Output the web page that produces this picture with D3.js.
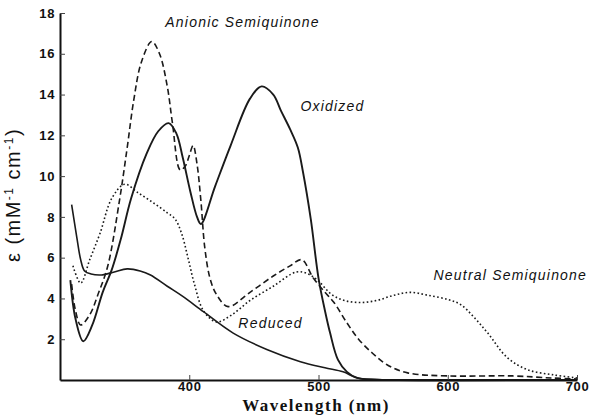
<!DOCTYPE html>
<html>
<head>
<meta charset="utf-8">
<script src="https://cdn.jsdelivr.net/npm/d3@7"></script>
<style>
  body { margin: 0; background: #fff; }
  text { fill: #111; }
</style>
</head>
<body>
<svg width="602" height="416"></svg>
<script>
// spectra (wavelength in nm, epsilon in mM-1 cm-1)
const oxidizedWl  = [308, 312, 318, 325, 333, 340, 347, 355, 367, 376, 384, 390, 395, 401, 406, 409, 420, 432, 447, 456, 465, 471, 478, 484, 488, 494, 500, 505, 509, 515, 522, 530, 545, 600, 700];
const oxidizedVal = [4.9, 3.0, 1.9, 2.7, 4.3, 5.4, 6.9, 8.9, 11.1, 12.2, 12.6, 12.1, 10.9, 9.2, 8.0, 7.65, 9.5, 11.5, 13.8, 14.4, 14.0, 13.2, 12.3, 11.4, 10.2, 7.9, 5.0, 3.4, 2.3, 1.0, 0.4, 0.1, 0.02, 0, 0];

const reducedWl  = [309, 313, 316, 319, 324, 332, 342, 352, 362, 370, 383, 395, 411, 434, 460, 486, 505, 519, 530, 545, 700];
const reducedVal = [8.6, 7.0, 5.9, 5.35, 5.2, 5.15, 5.3, 5.45, 5.35, 5.15, 4.6, 4.1, 3.35, 2.3, 1.5, 0.9, 0.6, 0.4, 0.1, 0.02, 0];

const anionicWl  = [309, 312, 316, 323, 330, 337, 346, 352, 357, 363, 371, 377, 383, 387, 393, 397, 400, 403, 406, 409, 412, 416, 421, 430, 447, 465, 478, 487, 496, 505, 512, 522, 531, 542, 553, 569, 600, 650, 680, 700];
const anionicVal = [4.7, 3.4, 2.7, 3.2, 4.3, 5.6, 8.8, 11.4, 13.7, 15.6, 16.6, 16.0, 14.4, 12.6, 10.3, 10.5, 11.0, 11.5, 10.6, 8.8, 6.5, 5.0, 4.2, 3.6, 4.3, 5.1, 5.6, 5.9, 5.0, 4.3, 3.8, 2.8, 2.0, 1.3, 0.75, 0.35, 0.2, 0.2, 0.1, 0.05];

const neutralWl  = [310, 316, 323, 331, 340, 350, 360, 372, 383, 389, 394, 399, 404, 411, 421, 433, 447, 465, 483, 492, 500, 510, 520, 532, 545, 558, 571, 585, 600, 610, 620, 631, 646, 662, 682, 700];
const neutralVal = [5.6, 4.75, 5.9, 7.2, 8.9, 9.6, 9.2, 8.7, 8.2, 7.9, 7.2, 6.0, 4.7, 3.4, 2.85, 3.2, 3.9, 4.6, 5.3, 5.2, 4.85, 4.2, 3.9, 3.8, 3.9, 4.15, 4.3, 4.15, 3.95, 3.7, 3.1, 2.3, 1.1, 0.5, 0.25, 0.1];

const xTicks = [400, 500, 600, 700];
const yTicks = [2, 4, 6, 8, 10, 12, 14, 16, 18];

// curve labels, anchored in data units (wavelength, epsilon)
const labelNames = ["Anionic Semiquinone", "Oxidized", "Neutral Semiquinone", "Reduced"];
const labelWl    = [381.5, 486, 589, 438];
const labelVal   = [17.3, 13.2, 4.9, 2.55];

const svg = d3.select("svg");

const x = d3.scaleLinear().domain([300, 700]).range([60, 577]);
const y = d3.scaleLinear().domain([0, 18]).range([380, 13]);

const zip = (a, b) => a.map((d, i) => [d, b[i]]);

const series = [
  { pts: zip(reducedWl, reducedVal),   width: 1.6, dash: null },
  { pts: zip(neutralWl, neutralVal),   width: 1.6, dash: "1.6,2.4" },
  { pts: zip(anionicWl, anionicVal),   width: 1.6, dash: "6,3.5" },
  { pts: zip(oxidizedWl, oxidizedVal), width: 1.9, dash: null }
];

const line = d3.line()
  .x(d => x(d[0]))
  .y(d => y(d[1]))
  .curve(d3.curveCatmullRom.alpha(0.5));

svg.append("g")
  .selectAll("path")
  .data(series)
  .join("path")
  .attr("d", d => line(d.pts))
  .attr("fill", "none")
  .attr("stroke", "#1a1a1a")
  .attr("stroke-width", d => d.width)
  .attr("stroke-dasharray", d => d.dash)
  .attr("stroke-linejoin", "round");

// axes
const xAxis = svg.append("g")
  .attr("transform", `translate(0,${y(0)})`)
  .call(d3.axisBottom(x).tickValues(xTicks).tickSizeInner(-5).tickSizeOuter(0).tickPadding(2));

const yAxis = svg.append("g")
  .attr("transform", `translate(${x(300)},0)`)
  .call(d3.axisLeft(y).tickValues(yTicks).tickSizeInner(-5).tickSizeOuter(0).tickPadding(5));

[xAxis, yAxis].forEach(g => {
  g.select(".domain").attr("stroke", "#111").attr("stroke-width", 2);
  g.selectAll(".tick line").attr("stroke", "#444").attr("stroke-width", 1);
  g.selectAll(".tick text")
    .attr("fill", "#111")
    .style("font-family", "'Liberation Sans', Arial, sans-serif")
    .style("font-size", "13px")
    .style("font-weight", "bold")
    .style("letter-spacing", "0.6px");
});
xAxis.selectAll(".tick text").attr("dy", "0.71em");

// curve labels
svg.append("g")
  .selectAll("text")
  .data(labelNames)
  .join("text")
  .attr("x", (d, i) => x(labelWl[i]))
  .attr("y", (d, i) => y(labelVal[i]))
  .style("font-family", "'Liberation Sans', Arial, sans-serif")
  .style("font-style", "italic")
  .style("font-size", "14px")
  .style("letter-spacing", "1.2px")
  .text(d => d);

// axis titles
svg.append("text")
  .attr("x", 316)
  .attr("y", 411)
  .attr("text-anchor", "middle")
  .style("font-family", "'Liberation Serif', 'Times New Roman', serif")
  .style("font-size", "17px")
  .style("font-weight", "bold")
  .style("letter-spacing", "1.5px")
  .text("Wavelength (nm)");

const yTitle = svg.append("text")
  .attr("transform", "translate(20,195) rotate(-90)")
  .attr("text-anchor", "middle")
  .style("font-family", "'Liberation Sans', Arial, sans-serif")
  .style("font-size", "20px")
  .style("letter-spacing", "1.5px");
yTitle.append("tspan").text("ε (mM");
yTitle.append("tspan").attr("dy", -7).style("font-size", "12px").text("-1");
yTitle.append("tspan").attr("dy", 7).text(" cm");
yTitle.append("tspan").attr("dy", -7).style("font-size", "12px").text("-1");
yTitle.append("tspan").attr("dy", 7).text(")");
</script>
</body>
</html>
